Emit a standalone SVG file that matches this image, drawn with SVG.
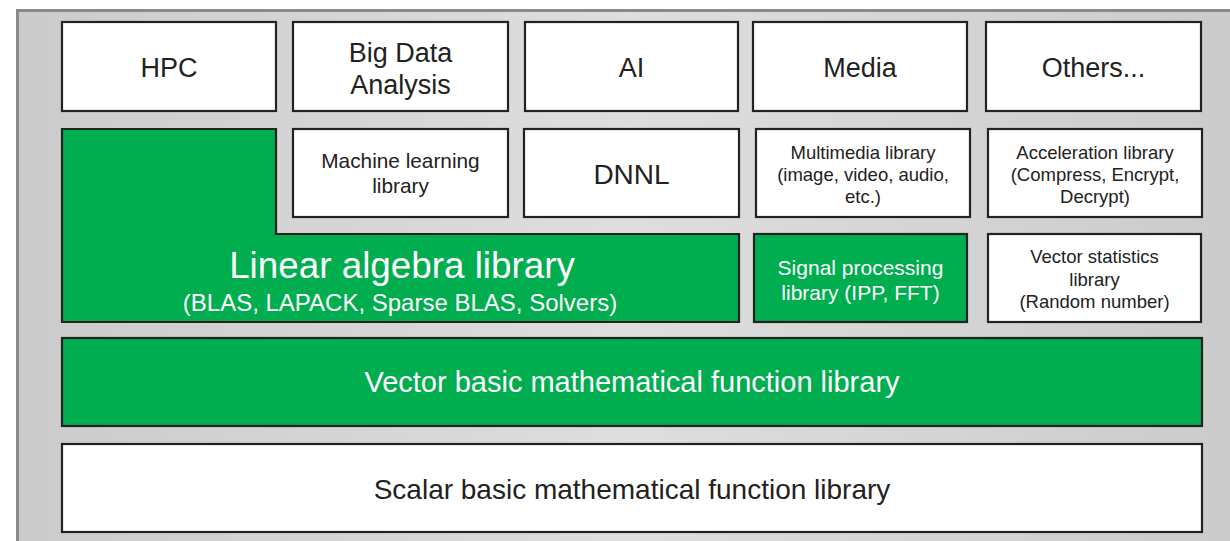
<svg xmlns="http://www.w3.org/2000/svg" width="1230" height="541" viewBox="0 0 1230 541">
  <defs>
    <linearGradient id="panelFill" x1="0" y1="0" x2="1" y2="0">
      <stop offset="0" stop-color="#cbcbcb"/>
      <stop offset="0.5" stop-color="#dedede"/>
      <stop offset="1" stop-color="#cbcbcb"/>
    </linearGradient>
  </defs>
  <style>
    .box { fill: #ffffff; stroke: #222222; stroke-width: 2.2; }
    .green { fill: #00ad4f; stroke: #222222; stroke-width: 2.2; }
    text { font-family: "Liberation Sans", Arial, sans-serif; text-anchor: middle; }
    .dark { fill: #222222; }
    .light { fill: #ffffff; }
  </style>

  <!-- background panel -->
  <rect x="0" y="0" width="1230" height="541" fill="#ffffff"/>
  <rect x="17.5" y="10.5" width="1220" height="540" fill="url(#panelFill)" stroke="#8a8a8a" stroke-width="3"/>

  <!-- application row -->
  <g id="hpc">
    <rect class="box" x="62" y="22" width="214" height="89"/>
    <text class="dark" x="169" y="77" font-size="27">HPC</text>
  </g>
  <g id="big-data">
    <rect class="box" x="293" y="22" width="215" height="89"/>
    <text class="dark" x="400.5" y="62" font-size="27">Big Data</text>
    <text class="dark" x="400.5" y="94" font-size="27">Analysis</text>
  </g>
  <g id="ai">
    <rect class="box" x="525" y="22" width="213" height="89"/>
    <text class="dark" x="631.5" y="77" font-size="27">AI</text>
  </g>
  <g id="media">
    <rect class="box" x="753" y="22" width="214" height="89"/>
    <text class="dark" x="860" y="77" font-size="27">Media</text>
  </g>
  <g id="others">
    <rect class="box" x="986" y="22" width="215" height="89"/>
    <text class="dark" x="1093.5" y="77" font-size="27">Others...</text>
  </g>

  <!-- domain libraries -->
  <g id="ml-library">
    <rect class="box" x="293" y="129" width="215" height="88"/>
    <text class="dark" x="400.5" y="168" font-size="20.8">Machine learning</text>
    <text class="dark" x="400.5" y="193" font-size="20.8">library</text>
  </g>
  <g id="dnnl">
    <rect class="box" x="524" y="129" width="215" height="88"/>
    <text class="dark" x="631.5" y="184" font-size="28">DNNL</text>
  </g>
  <g id="multimedia-library">
    <rect class="box" x="756" y="129" width="214" height="88"/>
    <text class="dark" x="863" y="159" font-size="18.5">Multimedia library</text>
    <text class="dark" x="863" y="181" font-size="18.5">(image, video, audio,</text>
    <text class="dark" x="863" y="203" font-size="18.5">etc.)</text>
  </g>
  <g id="acceleration-library">
    <rect class="box" x="988" y="129" width="214" height="88"/>
    <text class="dark" x="1095" y="159" font-size="18.5">Acceleration library</text>
    <text class="dark" x="1095" y="181" font-size="18.5">(Compress, Encrypt,</text>
    <text class="dark" x="1095" y="203" font-size="18.5">Decrypt)</text>
  </g>

  <!-- core libraries -->
  <g id="linear-algebra">
    <path class="green" d="M62,129 H276 V234 H739 V322 H62 Z"/>
    <text class="light" x="402" y="278" font-size="36.8">Linear algebra library</text>
    <text class="light" x="400" y="311" font-size="24">(BLAS, LAPACK, Sparse BLAS, Solvers)</text>
  </g>
  <g id="signal-processing">
    <rect class="green" x="754" y="234" width="213" height="88"/>
    <text class="light" x="860.5" y="275" font-size="21">Signal processing</text>
    <text class="light" x="860.5" y="300" font-size="21">library (IPP, FFT)</text>
  </g>
  <g id="vector-statistics">
    <rect class="box" x="988" y="234" width="213" height="88"/>
    <text class="dark" x="1094.5" y="263" font-size="18.5">Vector statistics</text>
    <text class="dark" x="1094.5" y="286" font-size="18.5">library</text>
    <text class="dark" x="1094.5" y="308" font-size="18.5">(Random number)</text>
  </g>

  <!-- base layers -->
  <g id="vector-math">
    <rect class="green" x="62" y="338" width="1140" height="88"/>
    <text class="light" x="632" y="392" font-size="29">Vector basic mathematical function library</text>
  </g>
  <g id="scalar-math">
    <rect class="box" x="62" y="444" width="1140" height="88"/>
    <text class="dark" x="632" y="499" font-size="28">Scalar basic mathematical function library</text>
  </g>

  <g id="connectors"/>
</svg>
